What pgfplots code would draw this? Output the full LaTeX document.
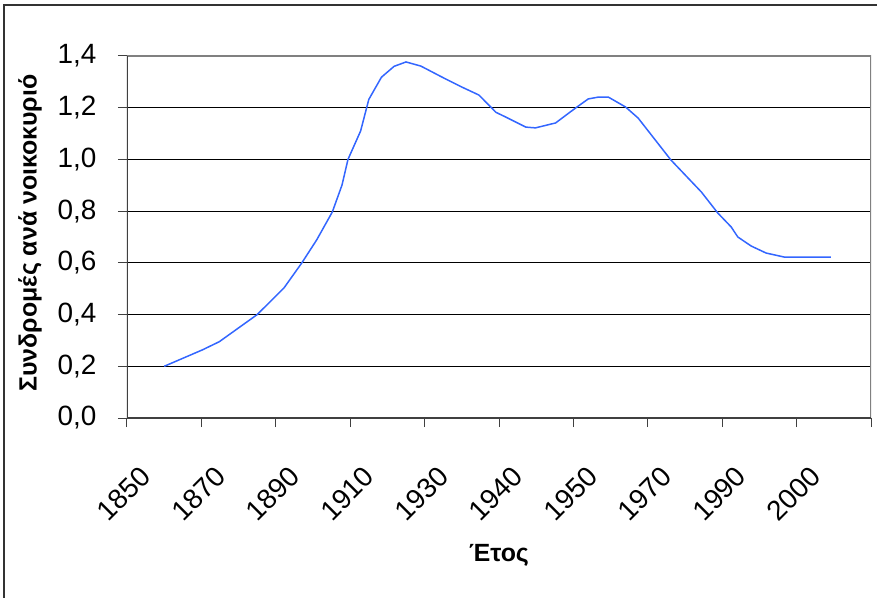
\documentclass[border=0pt]{standalone}
\usepackage{fontspec}
\setmainfont{Liberation Sans}
\usepackage{pgfplots}
\pgfplotsset{compat=1.18}
\definecolor{curve}{RGB}{51,102,255}
\definecolor{framegray}{RGB}{128,128,128}
\definecolor{axisdark}{RGB}{64,64,64}
\begin{document}
\begin{tikzpicture}
\useasboundingbox (-127bp,-180bp) rectangle (750bp,418bp);
\draw[line width=1.5bp, black!80] (-123bp,-190bp) -- (-123bp,413bp) -- (760bp,413bp);
\begin{axis}[
  at={(0,0)}, anchor=south west,
  scale only axis, width=744bp, height=362bp,
  xmin=0, xmax=10, ymin=0, ymax=1.4,
  axis line style={draw=none},
  tick align=outside, xtick pos=left, ytick pos=left,
  major tick length=9bp,
  tick style={axisdark, line width=1bp},
  xtick={0,1,...,10},
  xticklabels={1850,1870,1890,1910,1930,1940,1950,1970,1990,2000,{}},
  xticklabel style={yshift=-67bp, xshift=-3bp, rotate=45, anchor=center},
  ytick={0,0.2,...,1.4},
  ymajorgrids, grid style={black, line width=1bp},
  /pgf/number format/.cd, fixed, fixed zerofill, precision=1, use comma, assume math mode=true,
  /pgfplots/.cd,
  ticklabel style={font=\fontsize{28}{32}\selectfont},
  yticklabel style={anchor=east, xshift=-18bp},
  xlabel={Έτος}, ylabel={Συνδρομές ανά νοικοκυριό},
  every axis x label/.style={at={(axis description cs:0.5,0)}, anchor=center, yshift=-137bp, font=\bfseries\fontsize{25}{30}\selectfont},
  every axis y label/.style={at={(axis description cs:0,0.5)}, xshift=-97bp, yshift=4bp, rotate=90, anchor=center, font=\bfseries\fontsize{25}{30}\selectfont},
]
\addplot[curve, line width=1.5bp, mark=none] coordinates {
(0.50,0.200) (1.01,0.263) (1.24,0.295) (1.75,0.400) (2.11,0.503)
(2.35,0.600) (2.55,0.689) (2.76,0.797) (2.89,0.901) (2.97,1.000)
(3.14,1.110) (3.25,1.232) (3.42,1.318) (3.59,1.360) (3.75,1.377)
(3.95,1.361) (4.23,1.319) (4.50,1.280) (4.73,1.249) (4.96,1.182)
(5.09,1.164) (5.36,1.125) (5.49,1.122) (5.76,1.141) (6.03,1.199)
(6.20,1.234) (6.335,1.241) (6.47,1.241) (6.70,1.203) (6.87,1.160)
(7.31,0.998) (7.72,0.874) (7.94,0.793) (8.12,0.739) (8.21,0.700)
(8.39,0.665) (8.59,0.638) (8.84,0.622) (9.46,0.622)
};
\draw[framegray, line width=1.5bp] (rel axis cs:0,1) -- (rel axis cs:1,1) -- (rel axis cs:1,0);
\draw[axisdark, line width=1.5bp] (rel axis cs:0,1) -- (rel axis cs:0,0) -- (rel axis cs:1,0);
\end{axis}
\end{tikzpicture}
\end{document}
